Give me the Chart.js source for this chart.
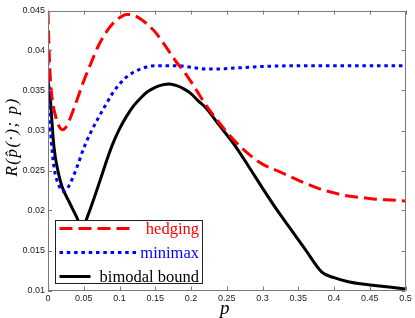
<!DOCTYPE html>
<html><head><meta charset="utf-8">
<script src="https://cdn.jsdelivr.net/npm/chart.js@4/dist/chart.umd.min.js"></script>
<style>html,body{margin:0;padding:0;background:#fff;overflow:hidden}#wrap{width:415px;height:318px;position:relative}</style>
</head><body><div id="wrap"><canvas id="c" width="415" height="318"></canvas></div>
<script>
const seriesNames = ['hedging', 'minimax', 'bimodal bound'];
const xTitle = 'p';
const yTitle = 'R(p\u0302(\u00b7); p)';
const xTicks = [0, 0.05, 0.1, 0.15, 0.2, 0.25, 0.3, 0.35, 0.4, 0.45, 0.5];
const yTicks = [0.01, 0.015, 0.02, 0.025, 0.03, 0.035, 0.04, 0.045];

const hedgingP = [0, 0.001, 0.0025, 0.005, 0.0075, 0.01, 0.015, 0.02, 0.025, 0.03, 0.04, 0.05, 0.06, 0.07, 0.08, 0.09, 0.1, 0.11, 0.12, 0.13, 0.14, 0.15, 0.16, 0.17, 0.18, 0.19, 0.2, 0.21, 0.22, 0.24, 0.26, 0.28, 0.3, 0.32, 0.34, 0.36, 0.38, 0.4, 0.42, 0.44, 0.46, 0.48, 0.5];
const hedgingR = [0.0449, 0.0415, 0.0378, 0.0346, 0.0330, 0.0320, 0.0306, 0.0301, 0.0304, 0.0313, 0.0337, 0.0362, 0.0384, 0.0405, 0.0421, 0.0433, 0.0441, 0.0445, 0.0444, 0.0439, 0.0432, 0.0423, 0.0411, 0.0398, 0.0385, 0.0374, 0.0361, 0.0347, 0.0333, 0.0309, 0.0288, 0.0271, 0.0258, 0.0250, 0.0242, 0.0234, 0.0227, 0.0222, 0.0218, 0.0216, 0.0214, 0.0213, 0.0212];

const minimaxP = [0, 0.001, 0.0025, 0.005, 0.0075, 0.01, 0.015, 0.02, 0.025, 0.03, 0.04, 0.05, 0.06, 0.07, 0.08, 0.09, 0.1, 0.11, 0.12, 0.13, 0.14, 0.15, 0.16, 0.18, 0.2, 0.22, 0.24, 0.26, 0.28, 0.3, 0.35, 0.4, 0.45, 0.5];
const minimaxR = [0.0386, 0.0352, 0.0316, 0.0283, 0.0260, 0.0246, 0.0232, 0.0224, 0.0225, 0.0232, 0.0253, 0.0278, 0.0298, 0.0315, 0.0331, 0.0346, 0.0358, 0.0367, 0.0373, 0.0377, 0.0380, 0.0381, 0.0381, 0.0381, 0.0379, 0.0377, 0.0377, 0.0378, 0.0379, 0.0380, 0.0381, 0.0381, 0.0381, 0.0381];

const bimodalP = [0, 0.003, 0.005, 0.0075, 0.01, 0.015, 0.02, 0.03, 0.04, 0.048, 0.055, 0.06, 0.07, 0.08, 0.09, 0.1, 0.11, 0.12, 0.13, 0.14, 0.15, 0.16, 0.17, 0.18, 0.19, 0.2, 0.21, 0.22, 0.24, 0.26, 0.28, 0.3, 0.32, 0.34, 0.36, 0.383, 0.4, 0.42, 0.44, 0.46, 0.48, 0.5];
const bimodalR = [0.0362, 0.0343, 0.0318, 0.0287, 0.0268, 0.0245, 0.0229, 0.0210, 0.0192, 0.0177, 0.0192, 0.0204, 0.0230, 0.0257, 0.0282, 0.0302, 0.0318, 0.0331, 0.0341, 0.0349, 0.0354, 0.0357, 0.0358, 0.0356, 0.0352, 0.0346, 0.0337, 0.0329, 0.0306, 0.0283, 0.0256, 0.0228, 0.0201, 0.0176, 0.0151, 0.0123, 0.0116, 0.0111, 0.0108, 0.0106, 0.0104, 0.0102];

const toXY = (ps, rs) => ps.map((p, i) => ({ x: p, y: rs[i] }));

const styles = [
  { color: '#ff0000', dash: [13, 6], legendLen: 76 },
  { color: '#0000ff', dash: [3.5, 3.8], legendLen: 79 },
  { color: '#000000', dash: [], legendLen: 31 }
];

const framePlugin = {
  id: 'framePlugin',
  afterDatasetsDraw(chart) {
    const ctx = chart.ctx;
    const a = chart.chartArea;
    const xs = chart.scales.x, ys = chart.scales.y;
    ctx.save();
    ctx.strokeStyle = '#7a7a7a';
    ctx.lineWidth = 1;
    ctx.beginPath();
    ctx.rect(Math.round(a.left) + 0.5, Math.round(a.top) + 0.5, Math.round(a.right - a.left) - 1, Math.round(a.bottom - a.top) - 1);
    ctx.stroke();
    const tl = 4;
    ctx.beginPath();
    xTicks.forEach(v => {
      const px = Math.round(xs.getPixelForValue(v)) + 0.5;
      ctx.moveTo(px, a.bottom); ctx.lineTo(px, a.bottom - tl);
      ctx.moveTo(px, a.top); ctx.lineTo(px, a.top + tl);
    });
    yTicks.forEach(v => {
      const py = Math.round(ys.getPixelForValue(v)) + 0.5;
      ctx.moveTo(a.left, py); ctx.lineTo(a.left + tl, py);
      ctx.moveTo(a.right, py); ctx.lineTo(a.right - tl, py);
    });
    ctx.stroke();

    const bx = 55.5, by = 220.5, bw = 147, bh = 63;
    ctx.fillStyle = '#ffffff';
    ctx.fillRect(bx, by, bw, bh);
    ctx.strokeStyle = '#222222';
    ctx.strokeRect(bx, by, bw, bh);
    const rowsY = [228.5, 252.5, 276.5];
    ctx.font = '16.5px "Liberation Serif", "Times New Roman", serif';
    ctx.textAlign = 'right';
    ctx.textBaseline = 'middle';
    seriesNames.forEach((name, i) => {
      const st = styles[i];
      ctx.beginPath();
      ctx.setLineDash(st.dash);
      ctx.lineWidth = 3;
      ctx.strokeStyle = st.color;
      ctx.moveTo(59.5, rowsY[i]);
      ctx.lineTo(59.5 + st.legendLen, rowsY[i]);
      ctx.stroke();
      ctx.setLineDash([]);
      ctx.fillStyle = st.color;
      ctx.fillText(name, 199, rowsY[i] + 1);
    });

    ctx.fillStyle = '#000';
    ctx.font = 'italic 19px "Liberation Serif", "Times New Roman", serif';
    ctx.textAlign = 'center';
    ctx.textBaseline = 'alphabetic';
    ctx.fillText(xTitle, (a.left + a.right) / 2 - 2, 314);
    ctx.translate(17, 137);
    ctx.rotate(-Math.PI / 2);
    ctx.font = 'italic 17px "Liberation Serif", "Times New Roman", serif';
    try { ctx.letterSpacing = '1.5px'; } catch (e) {}
    ctx.fillText(yTitle, 0, 0);
    ctx.restore();
  }
};

new Chart(document.getElementById('c'), {
  type: 'line',
  data: {
    datasets: [
      { label: seriesNames[0], data: toXY(hedgingP, hedgingR), borderColor: styles[0].color, borderDash: styles[0].dash, order: 1 },
      { label: seriesNames[1], data: toXY(minimaxP, minimaxR), borderColor: styles[1].color, borderDash: styles[1].dash, order: 2 },
      { label: seriesNames[2], data: toXY(bimodalP, bimodalR), borderColor: styles[2].color, borderDash: styles[2].dash, order: 3 }
    ]
  },
  options: {
    responsive: false,
    animation: false,
    devicePixelRatio: 1,
    layout: { padding: { left: 0, right: 9.5, top: 10.5, bottom: 0 } },
    elements: {
      point: { radius: 0, hoverRadius: 0 },
      line: { borderWidth: 3, fill: false, cubicInterpolationMode: 'monotone', borderCapStyle: 'butt', borderJoinStyle: 'round' }
    },
    plugins: { legend: { display: false }, tooltip: { enabled: false } },
    scales: {
      x: {
        type: 'linear', min: 0, max: 0.5,
        afterFit: s => { s.height = 27.5; },
        afterBuildTicks: s => { s.ticks = xTicks.map(v => ({ value: v })); },
        grid: { drawOnChartArea: false, drawTicks: false },
        border: { display: false },
        ticks: { padding: 3, color: '#222', font: { family: '"Liberation Sans", Arial, sans-serif', size: 9 }, maxRotation: 0, autoSkip: false,
          callback: v => String(Math.round(v * 100) / 100) }
      },
      y: {
        type: 'linear', min: 0.01, max: 0.045,
        afterFit: s => { s.width = 48; },
        afterBuildTicks: s => { s.ticks = yTicks.map(v => ({ value: v })); },
        grid: { drawOnChartArea: false, drawTicks: false },
        border: { display: false },
        ticks: { padding: 3, color: '#222', font: { family: '"Liberation Sans", Arial, sans-serif', size: 9 }, autoSkip: false,
          callback: v => String(Math.round(v * 1000) / 1000) }
      }
    }
  },
  plugins: [framePlugin]
});
</script></body></html>
